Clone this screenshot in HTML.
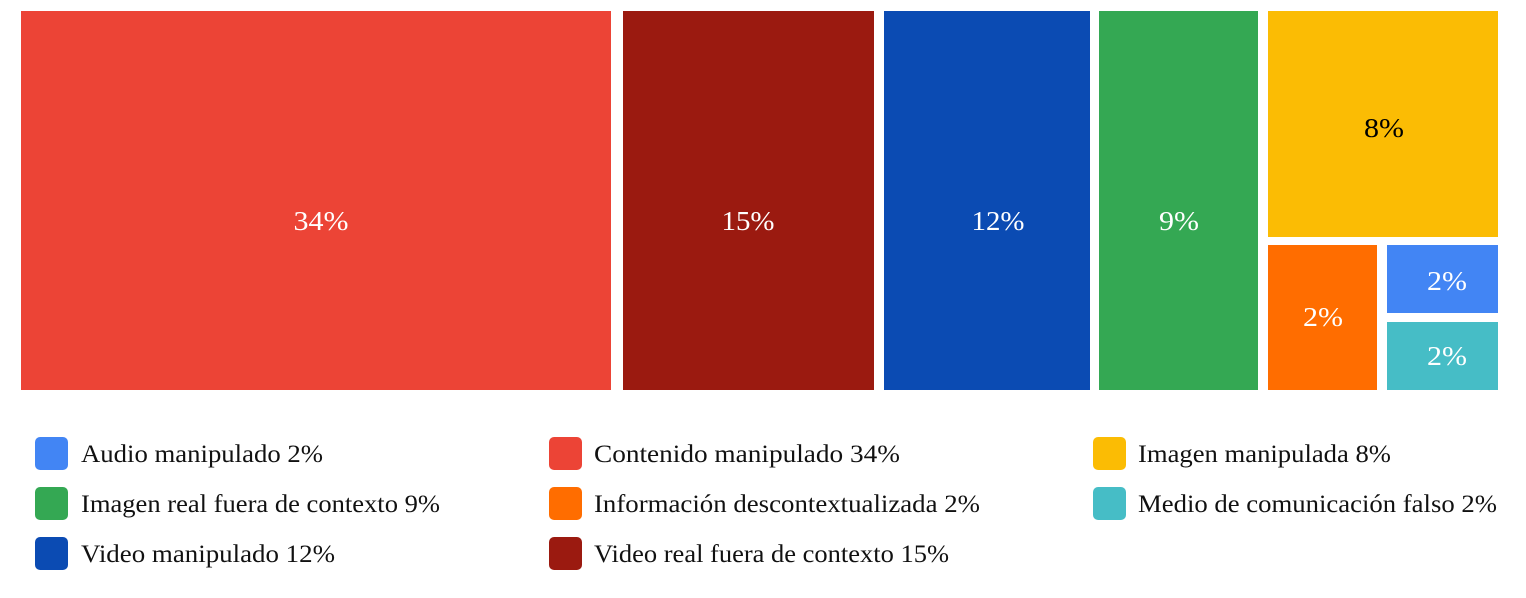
<!DOCTYPE html>
<html><head><meta charset="utf-8"><style>
html,body{margin:0;padding:0;background:#fff}
svg{display:block}
text{font-family:"Liberation Serif",serif}
</style></head><body>
<svg width="1526" height="598" viewBox="0 0 1526 598">
<rect x="21" y="11" width="590" height="379" fill="#EC4436"/>
<rect x="623" y="11" width="251" height="379" fill="#9B1A10"/>
<rect x="884" y="11" width="206" height="379" fill="#0B4BB3"/>
<rect x="1099" y="11" width="159" height="379" fill="#34A853"/>
<rect x="1268" y="11" width="230" height="226" fill="#FBBC04"/>
<rect x="1268" y="245" width="109" height="145" fill="#FF6D00"/>
<rect x="1387" y="245" width="111" height="68" fill="#4285F4"/>
<rect x="1387" y="322" width="111" height="68" fill="#46BDC6"/>
<g font-size="27" text-anchor="middle" fill="#fff">
<text x="321" y="230" textLength="55" lengthAdjust="spacingAndGlyphs">34%</text>
<text x="748" y="230" textLength="53" lengthAdjust="spacingAndGlyphs">15%</text>
<text x="998" y="230" textLength="53" lengthAdjust="spacingAndGlyphs">12%</text>
<text x="1179" y="230" textLength="40" lengthAdjust="spacingAndGlyphs">9%</text>
<text x="1384" y="137" fill="#000" textLength="40" lengthAdjust="spacingAndGlyphs">8%</text>
<text x="1323" y="326" textLength="40" lengthAdjust="spacingAndGlyphs">2%</text>
<text x="1447" y="290" textLength="40" lengthAdjust="spacingAndGlyphs">2%</text>
<text x="1447" y="365" textLength="40" lengthAdjust="spacingAndGlyphs">2%</text>
</g>
<g>
<rect x="35" y="437" width="33" height="33" rx="5" fill="#4285F4"/>
<rect x="35" y="487" width="33" height="33" rx="5" fill="#34A853"/>
<rect x="35" y="537" width="33" height="33" rx="5" fill="#0B4BB3"/>
<rect x="549" y="437" width="33" height="33" rx="5" fill="#EC4436"/>
<rect x="549" y="487" width="33" height="33" rx="5" fill="#FF6D00"/>
<rect x="549" y="537" width="33" height="33" rx="5" fill="#9B1A10"/>
<rect x="1093" y="437" width="33" height="33" rx="5" fill="#FBBC04"/>
<rect x="1093" y="487" width="33" height="33" rx="5" fill="#46BDC6"/>
</g>
<g font-size="25" fill="#111" lengthAdjust="spacingAndGlyphs">
<text x="81" y="462" textLength="242" lengthAdjust="spacingAndGlyphs">Audio manipulado 2%</text>
<text x="81" y="512" textLength="359" lengthAdjust="spacingAndGlyphs">Imagen real fuera de contexto 9%</text>
<text x="81" y="562" textLength="254" lengthAdjust="spacingAndGlyphs">Video manipulado 12%</text>
<text x="594" y="462" textLength="306" lengthAdjust="spacingAndGlyphs">Contenido manipulado 34%</text>
<text x="594" y="512" textLength="386" lengthAdjust="spacingAndGlyphs">Información descontextualizada 2%</text>
<text x="594" y="562" textLength="355" lengthAdjust="spacingAndGlyphs">Video real fuera de contexto 15%</text>
<text x="1138" y="462" textLength="253" lengthAdjust="spacingAndGlyphs">Imagen manipulada 8%</text>
<text x="1138" y="512" textLength="359" lengthAdjust="spacingAndGlyphs">Medio de comunicación falso 2%</text>
</g>
</svg>
</body></html>
